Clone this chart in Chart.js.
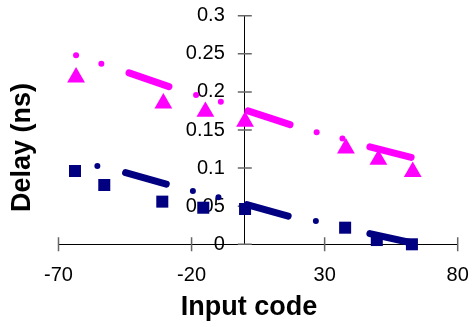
<!DOCTYPE html>
<html lang="en">
<head>
  <meta charset="UTF-8">
  <title>Delay vs input code</title>
  <script src="https://cdn.jsdelivr.net/npm/chart.js"></script>
  <style>
    html, body { margin: 0; padding: 0; background: #fff; }
    .wrap { width: 472px; height: 327px; }
  </style>
</head>
<body>
  <div class="wrap"><canvas id="delayChart" width="472" height="327"></canvas></div>

  <script>
    // axis ticks
    const xTicks = [-70, -20, 30, 80];
    const yTicks = [0, 0.05, 0.1, 0.15, 0.2, 0.25, 0.3];
    const yTickLabels = ['0', '0.05', '0.1', '0.15', '0.2', '0.25', '0.3'];

    // magenta: small dots, dense runs and triangles
    const pinkDotCode  = [-63.4, -53.9, -18.3, -9.0, 27.0, 36.7];
    const pinkDotDelay = [0.248, 0.237, 0.196, 0.187, 0.147, 0.139];
    const pinkRunCode  = [[-43.5, -28.5], [1.2, 17.0], [47.0, 62.5]];
    const pinkRunDelay = [[0.225, 0.207], [0.175, 0.157], [0.128, 0.114]];
    const pinkTriCode  = [-63.4, -30.6, -14.8, 0.1, 38.0, 50.2, 63.1];
    const pinkTriDelay = [0.219, 0.185, 0.174, 0.161, 0.126, 0.111, 0.095];

    // navy: small dots, dense runs and squares
    const navyDotCode  = [-55.4, -19.5, -9.9, 26.7];
    const navyDotDelay = [0.1027, 0.070, 0.0617, 0.0306];
    const navyRunCode  = [[-44.8, -29.5], [0.8, 16.3], [47.0, 62.5]];
    const navyRunDelay = [[0.094, 0.079], [0.052, 0.037], [0.014, 0.002]];
    const navySqCode   = [-63.8, -52.8, -31.0, -15.6, 0.1, 37.7, 49.6, 62.8];
    const navySqDelay  = [0.0962, 0.0778, 0.056, 0.048, 0.0463, 0.0218, 0.0056, 0.0];

    const PINK = '#ff00ff';
    const NAVY = '#000080';
    const FONT = "'Liberation Sans', Arial, sans-serif";

    const pts = (xs, ys) => xs.map((v, i) => ({ x: v, y: ys[i] }));

    function markers(xs, ys, color, style, r) {
      return {
        data: pts(xs, ys), showLine: false, clip: false,
        pointStyle: style, pointRadius: r, pointHoverRadius: r,
        pointBackgroundColor: color, pointBorderColor: color, pointBorderWidth: 0
      };
    }
    function runs(codes, delays, color) {
      return codes.map((c, i) => ({
        data: pts(c, delays[i]), showLine: true, clip: false,
        borderColor: color, borderWidth: 7, borderCapStyle: 'round',
        pointRadius: 0, pointHoverRadius: 0
      }));
    }

    const datasets = [
      markers(navySqCode, navySqDelay, NAVY, 'rect', 8.5),
      markers(navyDotCode, navyDotDelay, NAVY, 'circle', 3),
      ...runs(navyRunCode, navyRunDelay, NAVY),
      markers(pinkTriCode, pinkTriDelay, PINK, 'triangle', 10.3),
      markers(pinkDotCode, pinkDotDelay, PINK, 'circle', 3),
      ...runs(pinkRunCode, pinkRunDelay, PINK)
    ];

    // tick marks that cross the axis lines
    const crossTicks = {
      id: 'crossTicks',
      beforeDatasetsDraw(chart) {
        const { ctx, scales: { x, y } } = chart;
        const ax = x.getPixelForValue(0);
        const ay = y.getPixelForValue(0);
        ctx.save();
        ctx.strokeStyle = '#666';
        ctx.lineWidth = 1.5;
        ctx.beginPath();
        xTicks.forEach(v => {
          const px = x.getPixelForValue(v);
          ctx.moveTo(px, ay - 7); ctx.lineTo(px, ay + 7);
        });
        yTicks.forEach(v => {
          const py = y.getPixelForValue(v);
          ctx.moveTo(ax - 7, py); ctx.lineTo(ax + 7, py);
        });
        ctx.stroke();
        ctx.restore();
      }
    };

    // axis titles (placed like the original, not centred on the plot)
    const axisTitles = {
      id: 'axisTitles',
      afterDraw(chart) {
        const { ctx } = chart;
        ctx.save();
        ctx.fillStyle = '#000';
        ctx.textAlign = 'center';
        ctx.textBaseline = 'middle';
        ctx.font = 'bold 27px ' + FONT;
        ctx.fillText('Input code', 249, 308);
        ctx.translate(22.5, 147.5);
        ctx.rotate(-Math.PI / 2);
        ctx.font = 'bold 27px ' + FONT;
        ctx.fillText('Delay (ns)', 0, 0);
        ctx.restore();
      }
    };

    new Chart(document.getElementById('delayChart'), {
      type: 'scatter',
      data: { datasets },
      plugins: [crossTicks, axisTitles],
      options: {
        responsive: false,
        animation: false,
        layout: { padding: { left: 58.5, right: 14.3, top: 15.7, bottom: 0 } },
        plugins: { legend: { display: false }, tooltip: { enabled: false } },
        scales: {
          x: {
            type: 'linear', min: -70, max: 80,
            afterBuildTicks: s => { s.ticks = xTicks.map(v => ({ value: v })); },
            afterFit: s => { s.height = 82.7; },
            grid: { display: true, drawOnChartArea: false, tickLength: 19, color: 'rgba(0,0,0,0)' },
            border: { display: true, color: '#000', width: 1 },
            ticks: { padding: 0, color: '#000', font: { family: FONT, size: 20 }, maxRotation: 0 }
          },
          y: {
            type: 'linear', min: 0, max: 0.3,
            position: { x: 0 },
            afterBuildTicks: s => { s.ticks = yTicks.map(v => ({ value: v })); },
            grid: { display: true, drawOnChartArea: false, tickLength: 0, color: 'rgba(0,0,0,0)' },
            border: { display: true, color: '#000', width: 1 },
            ticks: {
              padding: 0, color: '#000', font: { family: FONT, size: 20 },
              // em space keeps the labels clear of the axis line
              callback: (v, i) => yTickLabels[i] + '\u2003'
            }
          }
        }
      }
    });
  </script>
</body>
</html>
